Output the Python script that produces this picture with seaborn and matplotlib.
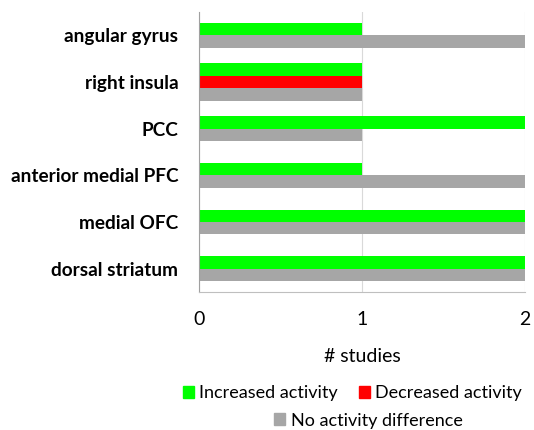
import matplotlib
matplotlib.use("Agg")
import matplotlib.pyplot as plt
import matplotlib.patches as mpatches
import pandas as pd
import seaborn as sns
import seaborn.objects as so

regions = ["angular gyrus", "right insula", "PCC", "anterior medial PFC", "medial OFC", "dorsal striatum"]
series = ["Increased activity", "Decreased activity", "No activity difference"]
increased = [1, 1, 2, 1, 2, 2]
decreased = [0, 1, 0, 0, 0, 0]
no_diff = [2, 1, 1, 2, 2, 2]
colors = {"Increased activity": "#00FF00", "Decreased activity": "#FF0000",
          "No activity difference": "#A6A6A6"}

rows = []
for name, vals in zip(series, [increased, decreased, no_diff]):
    for r, v in zip(regions, vals):
        if v > 0:
            rows.append({"region": r, "studies": v, "type": name})
df = pd.DataFrame(rows)
df["region"] = pd.Categorical(df["region"], categories=regions, ordered=True)
df["type"] = pd.Categorical(df["type"], categories=series, ordered=True)

font = "Lato"
fig = plt.figure(figsize=(5.34, 4.30), dpi=100)
ax = fig.add_axes([0.373, 0.321, 0.610, 0.651])

p = (
    so.Plot(df, y="region", x="studies", color="type")
    .add(so.Bar(alpha=1, edgewidth=0, width=0.8), so.Dodge(empty="drop"))
    .scale(color=so.Nominal([colors[s] for s in series], order=series),
           y=so.Nominal(order=regions))
    .theme(sns.axes_style("white"))
    .on(ax)
    .plot()
)
fig.legends.clear()

ax.set_facecolor("white")
ax.set_xlim(0, 2)
ax.set_xticks([0, 1, 2])
ax.set_xticklabels(["0", "1", "2"], fontsize=14, fontfamily=font)
ax.tick_params(axis="x", length=0, pad=14)
ax.tick_params(axis="y", length=0, pad=15)
for lab in ax.get_yticklabels():
    lab.set_fontsize(13.7)
    lab.set_fontweight("bold")
    lab.set_fontfamily(font)
ax.set_ylabel("")
ax.set_xlabel("# studies", fontsize=14, fontfamily=font, labelpad=14)
ax.xaxis.grid(True, color="#D9D9D9", linewidth=0.8)
ax.yaxis.grid(False)
ax.set_axisbelow(True)
for s in ["top", "right"]:
    ax.spines[s].set_visible(False)
ax.spines["left"].set_color("#A0A0A0")
ax.spines["bottom"].set_color("#BFBFBF")
ax.spines["left"].set_linewidth(0.8)
ax.spines["bottom"].set_linewidth(0.8)

h = [mpatches.Patch(color=colors[s], label=s) for s in series]
leg1 = fig.legend(handles=h[:2], loc="center", bbox_to_anchor=(0.66, 0.085), ncol=2,
                  frameon=False, prop={"family": font, "size": 13},
                  handlelength=0.6, handleheight=0.6, handletextpad=0.3, columnspacing=1.2)
leg2 = fig.legend(handles=h[2:], loc="center", bbox_to_anchor=(0.69, 0.022), ncol=1,
                  frameon=False, prop={"family": font, "size": 13},
                  handlelength=0.6, handleheight=0.6, handletextpad=0.3)

fig.savefig("out.png", dpi=100)
